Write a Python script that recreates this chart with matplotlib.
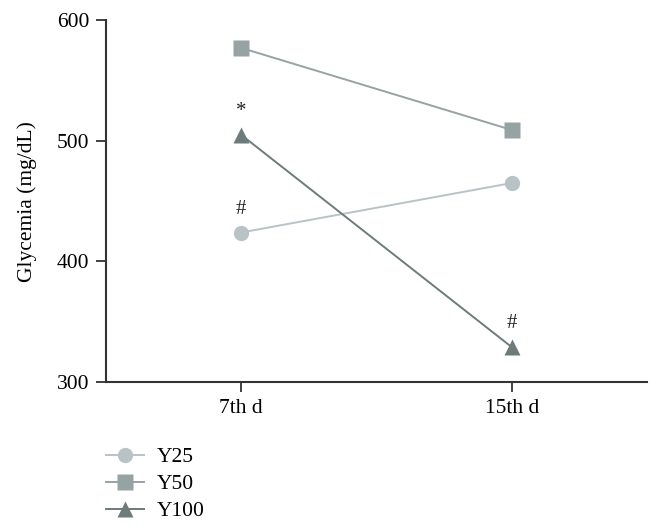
import matplotlib
matplotlib.use("Agg")
import matplotlib.pyplot as plt

plt.rcParams.update(
    {
        "font.family": "serif",
        "font.serif": ["Liberation Serif", "DejaVu Serif"],
        "font.size": 15.5,
    }
)

days = ["7th d", "15th d"]
y25 = [424, 465]
y50 = [577, 509]
y100 = [505, 329]

# significance marks: (series, day index, symbol)
marks = [("Y25", 0, "#"), ("Y100", 0, "*"), ("Y100", 1, "#")]

series = {
    "Y25": (y25, "o", "#b9c3c5", "#b9c3c5"),
    "Y50": (y50, "s", "#97a3a2", "#97a3a2"),
    "Y100": (y100, "^", "#6d7b7a", "#6d7b7a"),
}

fig = plt.figure(figsize=(6.61, 5.30), dpi=100)
ax = fig.add_axes([0.160, 0.279, 0.819, 0.683])

x = range(len(days))
for name, (vals, mk, lc, mc) in series.items():
    ax.plot(x, vals, color=lc, lw=1.4, marker=mk, markersize=11,
            markerfacecolor=mc, markeredgecolor="none", label=name)

for name, i, sym in marks:
    vals = series[name][0]
    ax.annotate(sym, (i, vals[i]), xytext=(0, 10), textcoords="offset points",
                ha="center", va="bottom", fontsize=15, color="#222222")

ax.set_xlim(-0.5, 1.5)
ax.set_ylim(300, 600)
ax.set_xticks(list(x))
ax.set_xticklabels(days)
ax.set_yticks([300, 400, 500, 600])
ax.set_ylabel("Glycemia (mg/dL)", labelpad=14)

for s in ["top", "right"]:
    ax.spines[s].set_visible(False)
for s in ["left", "bottom"]:
    ax.spines[s].set_linewidth(1.5)
    ax.spines[s].set_color("#333333")
ax.tick_params(direction="out", length=7, width=1.3, color="#333333", pad=5)

fig.legend(loc="upper left", bbox_to_anchor=(0.131, 1 - 428 / 530), frameon=False,
           handlelength=1.75, handletextpad=0.6, labelspacing=0.32, fontsize=15.5)

fig.savefig("out.png", dpi=100)
